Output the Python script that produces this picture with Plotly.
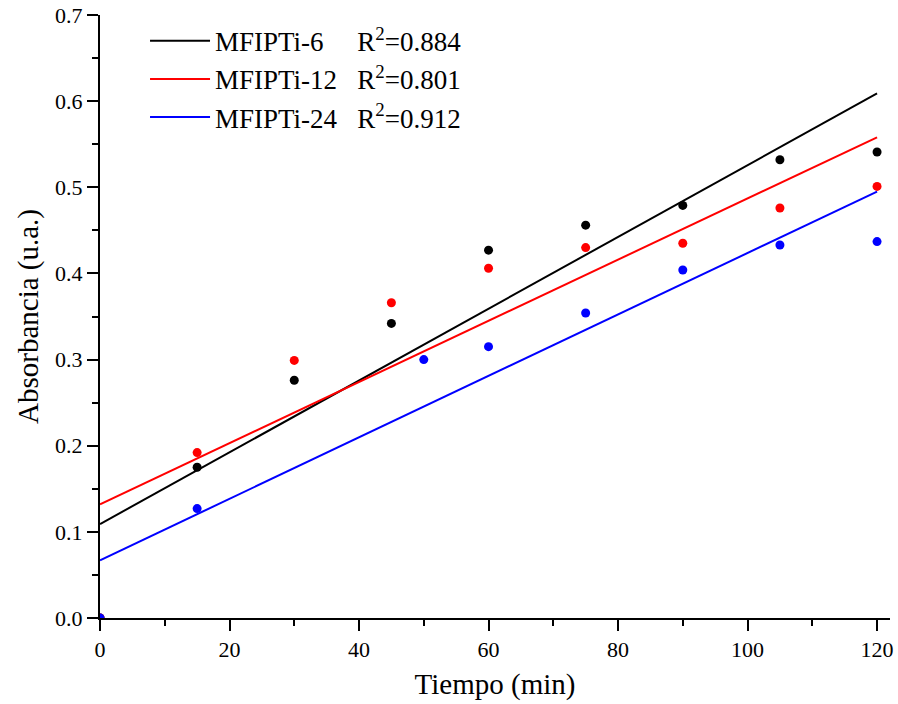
import numpy as np
import plotly.graph_objects as go

# ---- data ----
series_names = ["MFIPTi-6", "MFIPTi-12", "MFIPTi-24"]
r2_values = ["0.884", "0.801", "0.912"]
colors = ["#000000", "#FF0000", "#0000FF"]

t_6 = [0, 15, 30, 45, 60, 75, 90, 105, 120]
abs_6 = [0.0, 0.175, 0.276, 0.342, 0.427, 0.456, 0.479, 0.532, 0.541]

t_12 = [0, 15, 30, 45, 60, 75, 90, 105, 120]
abs_12 = [0.0, 0.192, 0.299, 0.366, 0.406, 0.430, 0.435, 0.476, 0.501]

t_24 = [0, 15, 50, 60, 75, 90, 105, 120]
abs_24 = [0.0, 0.127, 0.300, 0.315, 0.354, 0.404, 0.433, 0.437]

# linear fits (intercept, slope) as drawn in the reference
fit_intercepts = [0.109, 0.132, 0.067]
fit_slopes = [0.004167, 0.003550, 0.003567]
fit_range = [0, 120]

x_ticks = [0, 20, 40, 60, 80, 100, 120]
y_ticks = [0.0, 0.1, 0.2, 0.3, 0.4, 0.5, 0.6, 0.7]

FONT = "Liberation Serif"
pad = ["\u00a0" * 5, "\u00a0" * 3, "\u00a0" * 3]

fig = go.Figure()

t_all = [t_6, t_12, t_24]
a_all = [abs_6, abs_12, abs_24]

for i in range(3):
    xs = np.array(fit_range, dtype=float)
    ys = fit_intercepts[i] + fit_slopes[i] * xs
    fig.add_trace(go.Scatter(
        x=xs, y=ys, mode="lines",
        line=dict(color=colors[i], width=2),
        name=f"{series_names[i]}{pad[i]}R<sup>2</sup>={r2_values[i]}",
        legendgroup=f"g{i}",
        showlegend=True,
    ))

for i in range(3):
    fig.add_trace(go.Scatter(
        x=t_all[i], y=a_all[i], mode="markers",
        marker=dict(color=colors[i], size=9),
        showlegend=False,
        legendgroup=f"g{i}",
    ))

fig.update_layout(
    width=898, height=704,
    margin=dict(l=100, r=8, t=15, b=86, autoexpand=False),
    plot_bgcolor="white", paper_bgcolor="white",
    font=dict(family=FONT, size=22, color="black"),
    legend=dict(
        x=0.057, y=0.997, xanchor="left", yanchor="top",
        bgcolor="rgba(0,0,0,0)", font=dict(family=FONT, size=27),
        itemwidth=60, tracegroupgap=0, traceorder="normal",
    ),
    xaxis=dict(
        range=[0, 122], tickvals=x_ticks, showline=True, linecolor="black",
        linewidth=2, ticks="outside", ticklen=11, tickwidth=2, tickcolor="black",
        showgrid=False, zeroline=False, mirror=False,
        minor=dict(ticks="outside", ticklen=6, tickwidth=2, dtick=10, tick0=0, tickcolor="black", showgrid=False),
        title=dict(text="Tiempo (min)", font=dict(family=FONT, size=29), standoff=12),
        tickfont=dict(family=FONT, size=22),
    ),
    yaxis=dict(
        range=[0, 0.7], tickvals=y_ticks, tickformat=".1f", showline=True, linecolor="black",
        linewidth=2, ticks="outside", ticklen=11, tickwidth=2, tickcolor="black",
        showgrid=False, zeroline=False, mirror=False,
        minor=dict(ticks="outside", ticklen=6, tickwidth=2, dtick=0.05, tick0=0, tickcolor="black", showgrid=False),
        title=dict(text="Absorbancia (u.a.)", font=dict(family=FONT, size=29), standoff=8),
        tickfont=dict(family=FONT, size=22),
    ),
)

fig.write_html("out.html")
